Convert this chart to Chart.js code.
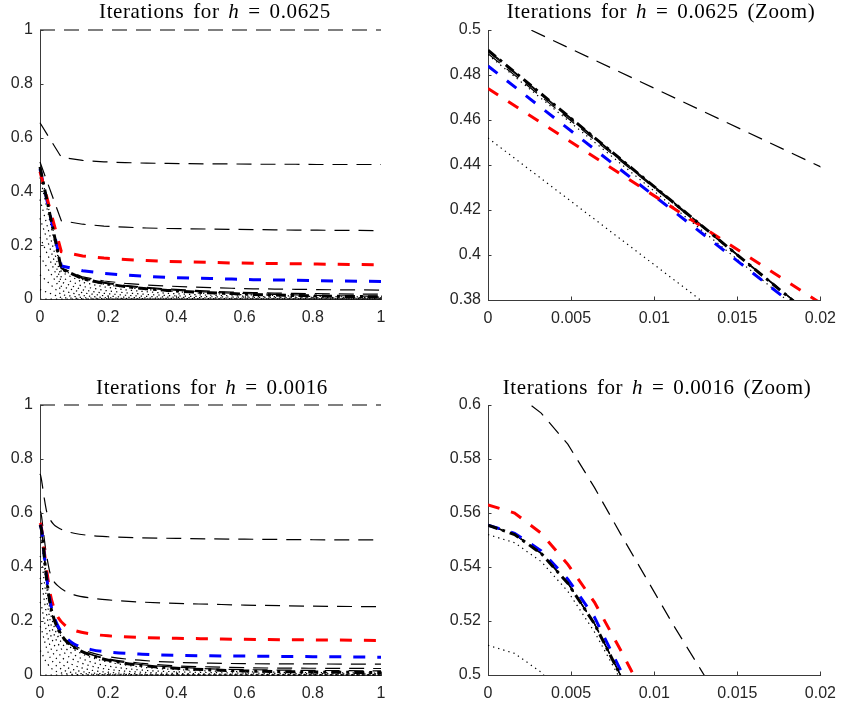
<!DOCTYPE html>
<html>
<head>
<meta charset="utf-8">
<script src="https://cdn.jsdelivr.net/npm/chart.js@4.4.1/dist/chart.umd.min.js"></script>
<style>
  html, body { margin: 0; padding: 0; background: #fff; }
  #page { position: relative; width: 845px; height: 706px; overflow: hidden; }
  #page canvas { position: absolute; }
  .plot-title {
    position: absolute; transform: translateX(-50%); white-space: nowrap;
    font-family: 'Liberation Serif', serif; font-size: 21px; line-height: 1;
    letter-spacing: 0.6px; word-spacing: 3px; color: #000;
  }
</style>
</head>
<body>
<div id="page">
  <canvas id="chart-tl" width="400" height="325" style="left:0;top:0"></canvas>
  <canvas id="chart-tr" width="425" height="325" style="left:420px;top:0"></canvas>
  <canvas id="chart-bl" width="400" height="331" style="left:0;top:375px"></canvas>
  <canvas id="chart-br" width="425" height="331" style="left:420px;top:375px"></canvas>
  <div class="plot-title" style="left:215px;top:1px">Iterations for <i>h</i> = 0.0625</div>
  <div class="plot-title" style="left:661px;top:1px">Iterations for <i>h</i> = 0.0625 (Zoom)</div>
  <div class="plot-title" style="left:212px;top:377px">Iterations for <i>h</i> = 0.0016</div>
  <div class="plot-title" style="left:657px;top:377px">Iterations for <i>h</i> = 0.0016 (Zoom)</div>
</div>
<script>
// ---- h = 0.0625 (mesh nodes) ----
const xCoarse = [0, 0.0625, 0.125, 0.1875, 0.25, 0.3125, 0.375, 0.4375, 0.5, 0.5625, 0.625, 0.6875, 0.75, 0.8125, 0.875, 0.9375, 1];
const coarseUpper0 = [1, 1, 1, 1, 1, 1, 1, 1, 1, 1, 1, 1, 1, 1, 1, 1, 1];
const coarseUpper1 = [0.655, 0.527, 0.515, 0.51, 0.507, 0.505, 0.504, 0.503, 0.502, 0.502, 0.501, 0.501, 0.501, 0.5, 0.5, 0.5, 0.5];
const coarseUpper2 = [0.509, 0.291, 0.278, 0.271, 0.267, 0.264, 0.262, 0.261, 0.26, 0.259, 0.258, 0.257, 0.256, 0.256, 0.255, 0.255, 0.254];
const coarseRed = [0.474, 0.176, 0.16, 0.152, 0.147, 0.143, 0.14, 0.138, 0.136, 0.134, 0.133, 0.132, 0.131, 0.13, 0.129, 0.128, 0.127];
const coarseBlue = [0.484, 0.123, 0.105, 0.095, 0.089, 0.084, 0.08, 0.078, 0.076, 0.074, 0.072, 0.071, 0.07, 0.068, 0.067, 0.066, 0.065];
const coarseUpper5 = [0.4895, 0.116, 0.082, 0.067, 0.058, 0.052, 0.048, 0.045, 0.042, 0.04, 0.038, 0.037, 0.036, 0.035, 0.034, 0.034, 0.033];
const coarseUpper6 = [0.4905, 0.114, 0.078, 0.062, 0.051, 0.043, 0.037, 0.033, 0.029, 0.026, 0.024, 0.022, 0.021, 0.02, 0.019, 0.018, 0.018];
const coarseUpper7 = [0.491, 0.113, 0.076, 0.059, 0.048, 0.04, 0.034, 0.029, 0.025, 0.022, 0.019, 0.017, 0.015, 0.013, 0.012, 0.011, 0.011];
const coarseSolution = [0.491, 0.112, 0.075, 0.058, 0.046, 0.038, 0.032, 0.027, 0.023, 0.02, 0.017, 0.015, 0.013, 0.011, 0.01, 0.009, 0.008];
const coarseLower1 = [0.489, 0.11, 0.072, 0.055, 0.043, 0.035, 0.029, 0.024, 0.02, 0.017, 0.015, 0.013, 0.011, 0.0095, 0.0085, 0.0075, 0.007];
const coarseLower2 = [0.452, 0.1, 0.062, 0.045, 0.034, 0.027, 0.021, 0.017, 0.014, 0.012, 0.01, 0.0085, 0.0072, 0.0062, 0.0055, 0.005, 0.0045];
const coarseLower3 = [0.37, 0.08, 0.047, 0.032, 0.023, 0.017, 0.013, 0.01, 0.0085, 0.0072, 0.0062, 0.0053, 0.0046, 0.004, 0.0036, 0.0032, 0.003];
const coarseLower4 = [0.3, 0.063, 0.034, 0.021, 0.014, 0.0095, 0.007, 0.0055, 0.0044, 0.0036, 0.003, 0.0026, 0.0022, 0.002, 0.0018, 0.0016, 0.0015];
const coarseLower5 = [0.23, 0.047, 0.023, 0.012, 0.0065, 0.0038, 0.0025, 0.0018, 0.0014, 0.0012, 0.001, 0.0009, 0.0008, 0.0007, 0.0006, 0.0006, 0.0005];
const coarseLower6 = [0.16, 0.031, 0.013, 0.005, 0.002, 0.001, 0.0005, 0, 0, 0, 0, 0, 0, 0, 0, 0, 0];
const coarseLower7 = [0.09, 0.016, 0.005, 0.0012, 0, 0, 0, 0, 0, 0, 0, 0, 0, 0, 0, 0, 0];
const coarseLower8 = [0.035, 0.005, 0.001, 0, 0, 0, 0, 0, 0, 0, 0, 0, 0, 0, 0, 0, 0];
const coarseLower0 = [0, 0, 0, 0, 0, 0, 0, 0, 0, 0, 0, 0, 0, 0, 0, 0, 0];

// ---- h = 0.0016 (mesh nodes near x = 0, sampled further out) ----
const xFine = [0, 0.0016, 0.0032, 0.0048, 0.0064, 0.008, 0.0096, 0.0112, 0.0128, 0.0144, 0.016, 0.0176, 0.0192, 0.03, 0.04, 0.05, 0.075, 0.1, 0.15, 0.2, 0.3, 0.4, 0.5, 0.6, 0.8, 1];
const fineUpper0 = [1, 1, 1, 1, 1, 1, 1, 1, 1, 1, 1, 1, 1, 1, 1, 1, 1, 1, 1, 1, 1, 1, 1, 1, 1, 1];
const fineUpper1 = [0.745, 0.74, 0.731, 0.72, 0.707, 0.693, 0.679, 0.665, 0.652, 0.64, 0.628, 0.617, 0.607, 0.575, 0.558, 0.548, 0.533, 0.525, 0.516, 0.512, 0.508, 0.506, 0.504, 0.503, 0.501, 0.5];
const fineUpper2 = [0.605, 0.6045, 0.597, 0.5855, 0.5695, 0.552, 0.535, 0.518, 0.502, 0.486, 0.471, 0.457, 0.444, 0.375, 0.348, 0.333, 0.31, 0.297, 0.285, 0.278, 0.27, 0.265, 0.262, 0.259, 0.255, 0.253];
const fineRed = [0.563, 0.56, 0.5525, 0.541, 0.527, 0.509, 0.49, 0.472, 0.455, 0.439, 0.423, 0.408, 0.393, 0.3, 0.252, 0.22, 0.182, 0.166, 0.152, 0.145, 0.139, 0.136, 0.134, 0.132, 0.13, 0.128];
const fineBlue = [0.5555, 0.5525, 0.546, 0.5355, 0.5215, 0.5015, 0.481, 0.461, 0.441, 0.421, 0.402, 0.384, 0.366, 0.272, 0.222, 0.188, 0.14, 0.115, 0.094, 0.085, 0.077, 0.073, 0.071, 0.07, 0.068, 0.066];
const fineUpper5 = [0.5555, 0.5522, 0.5452, 0.5342, 0.5192, 0.4997, 0.4782, 0.4572, 0.4365, 0.4165, 0.397, 0.378, 0.36, 0.265, 0.216, 0.183, 0.135, 0.11, 0.083, 0.068, 0.054, 0.047, 0.044, 0.042, 0.041, 0.04];
const fineUpper6 = [0.5555, 0.552, 0.545, 0.534, 0.519, 0.4996, 0.478, 0.457, 0.436, 0.416, 0.396, 0.377, 0.359, 0.263, 0.213, 0.179, 0.13, 0.104, 0.077, 0.06, 0.043, 0.034, 0.03, 0.027, 0.025, 0.024];
const fineUpper7 = [0.5555, 0.552, 0.545, 0.534, 0.519, 0.4995, 0.478, 0.457, 0.436, 0.416, 0.396, 0.377, 0.359, 0.262, 0.212, 0.178, 0.129, 0.103, 0.075, 0.057, 0.038, 0.029, 0.023, 0.02, 0.017, 0.015];
const fineSolution = [0.5555, 0.552, 0.545, 0.534, 0.519, 0.4995, 0.478, 0.457, 0.436, 0.416, 0.396, 0.377, 0.359, 0.262, 0.212, 0.178, 0.128, 0.102, 0.073, 0.055, 0.035, 0.025, 0.019, 0.015, 0.011, 0.009];
const fineLower1 = [0.552, 0.549, 0.542, 0.531, 0.516, 0.498, 0.477, 0.456, 0.435, 0.414, 0.394, 0.375, 0.356, 0.258, 0.206, 0.171, 0.12, 0.094, 0.065, 0.048, 0.029, 0.02, 0.015, 0.012, 0.009, 0.007];
const fineLower2 = [0.511, 0.508, 0.501, 0.49, 0.476, 0.459, 0.44, 0.421, 0.402, 0.383, 0.365, 0.347, 0.33, 0.235, 0.185, 0.15, 0.1, 0.075, 0.048, 0.033, 0.018, 0.012, 0.009, 0.007, 0.005, 0.004];
const fineLower3 = [0.44, 0.437, 0.43, 0.42, 0.407, 0.392, 0.376, 0.36, 0.344, 0.328, 0.313, 0.298, 0.284, 0.2, 0.155, 0.123, 0.078, 0.056, 0.033, 0.021, 0.01, 0.006, 0.004, 0.003, 0.002, 0.0015];
const fineLower4 = [0.36, 0.357, 0.35, 0.341, 0.33, 0.317, 0.303, 0.289, 0.275, 0.262, 0.249, 0.237, 0.225, 0.155, 0.117, 0.09, 0.053, 0.036, 0.018, 0.01, 0.004, 0.002, 0.001, 0.0008, 0.0005, 0.0004];
const fineLower5 = [0.27, 0.267, 0.261, 0.253, 0.244, 0.233, 0.222, 0.211, 0.2, 0.189, 0.179, 0.169, 0.16, 0.106, 0.078, 0.058, 0.031, 0.019, 0.008, 0.004, 0.001, 0, 0, 0, 0, 0];
const fineLower6 = [0.18, 0.178, 0.173, 0.167, 0.16, 0.152, 0.144, 0.136, 0.128, 0.121, 0.114, 0.107, 0.101, 0.064, 0.045, 0.032, 0.015, 0.008, 0.003, 0.001, 0, 0, 0, 0, 0, 0];
const fineLower7 = [0.09, 0.089, 0.086, 0.082, 0.078, 0.074, 0.069, 0.065, 0.061, 0.057, 0.053, 0.05, 0.047, 0.028, 0.019, 0.012, 0.005, 0.002, 0.0005, 0, 0, 0, 0, 0, 0, 0];
const fineLower0 = [0, 0, 0, 0, 0, 0, 0, 0, 0, 0, 0, 0, 0, 0, 0, 0, 0, 0, 0, 0, 0, 0, 0, 0, 0, 0];

// ---- tick labels ----
const fullTicks = [0, 0.2, 0.4, 0.6, 0.8, 1];
const zoomXTicks = [0, 0.005, 0.01, 0.015, 0.02];
const zoomYTicksCoarse = [0.38, 0.4, 0.42, 0.44, 0.46, 0.48, 0.5];
const zoomYTicksFine = [0.5, 0.52, 0.54, 0.56, 0.58, 0.6];

const AXIS_COLOR = '#3a3a3a';
const TICK_TEXT = '#262626';

const styles = {
  upper: { borderColor: '#000000', borderWidth: 1.2, borderDash: [15, 9] },
  red: { borderColor: '#ff0000', borderWidth: 3, borderDash: [12, 12] },
  blue: { borderColor: '#0000ff', borderWidth: 3, borderDash: [12, 12] },
  solution: { borderColor: '#000000', borderWidth: 3, borderDash: [10, 5, 3, 5] },
  lower: { borderColor: '#000000', borderWidth: 1.2, borderDash: [1.3, 4] }
};

function lineSet(xs, ys, style, smooth) {
  return {
    data: xs.map((x, i) => ({ x, y: ys[i] })),
    showLine: true,
    pointRadius: 0,
    pointHoverRadius: 0,
    fill: false,
    tension: 0,
    cubicInterpolationMode: smooth ? 'monotone' : 'default',
    borderCapStyle: 'butt',
    ...style
  };
}

// first entry is drawn on top
function coarseSets() {
  return [
    lineSet(xCoarse, coarseSolution, styles.solution),
    lineSet(xCoarse, coarseRed, styles.red),
    lineSet(xCoarse, coarseBlue, styles.blue),
    lineSet(xCoarse, coarseUpper0, styles.upper),
    lineSet(xCoarse, coarseUpper1, styles.upper),
    lineSet(xCoarse, coarseUpper2, styles.upper),
    lineSet(xCoarse, coarseUpper5, styles.upper),
    lineSet(xCoarse, coarseUpper6, styles.upper),
    lineSet(xCoarse, coarseUpper7, styles.upper),
    lineSet(xCoarse, coarseLower1, styles.lower),
    lineSet(xCoarse, coarseLower2, styles.lower),
    lineSet(xCoarse, coarseLower3, styles.lower),
    lineSet(xCoarse, coarseLower4, styles.lower),
    lineSet(xCoarse, coarseLower5, styles.lower),
    lineSet(xCoarse, coarseLower6, styles.lower),
    lineSet(xCoarse, coarseLower7, styles.lower),
    lineSet(xCoarse, coarseLower8, styles.lower),
    lineSet(xCoarse, coarseLower0, styles.lower)
  ];
}

function fineSets(smooth) {
  return [
    lineSet(xFine, fineSolution, styles.solution, smooth),
    lineSet(xFine, fineBlue, styles.blue, smooth),
    lineSet(xFine, fineRed, styles.red, smooth),
    lineSet(xFine, fineUpper0, styles.upper, smooth),
    lineSet(xFine, fineUpper1, styles.upper, smooth),
    lineSet(xFine, fineUpper2, styles.upper, smooth),
    lineSet(xFine, fineUpper5, styles.upper, smooth),
    lineSet(xFine, fineUpper6, styles.upper, smooth),
    lineSet(xFine, fineUpper7, styles.upper, smooth),
    lineSet(xFine, fineLower1, styles.lower, smooth),
    lineSet(xFine, fineLower2, styles.lower, smooth),
    lineSet(xFine, fineLower3, styles.lower, smooth),
    lineSet(xFine, fineLower4, styles.lower, smooth),
    lineSet(xFine, fineLower5, styles.lower, smooth),
    lineSet(xFine, fineLower6, styles.lower, smooth),
    lineSet(xFine, fineLower7, styles.lower, smooth),
    lineSet(xFine, fineLower0, styles.lower, smooth)
  ];
}

// MATLAB style: tick marks point into the axes
const innerTicks = {
  id: 'innerTicks',
  afterDraw(chart) {
    const { ctx, chartArea, scales } = chart;
    ctx.save();
    ctx.strokeStyle = AXIS_COLOR;
    ctx.lineWidth = 1;
    ctx.beginPath();
    scales.x.ticks.forEach((t) => {
      const px = Math.round(scales.x.getPixelForValue(t.value)) + 0.5;
      ctx.moveTo(px, chartArea.bottom);
      ctx.lineTo(px, chartArea.bottom - 3.5);
    });
    scales.y.ticks.forEach((t) => {
      const py = Math.round(scales.y.getPixelForValue(t.value)) + 0.5;
      ctx.moveTo(chartArea.left, py);
      ctx.lineTo(chartArea.left + 3.5, py);
    });
    ctx.stroke();
    ctx.restore();
  }
};

function fmt(v) {
  return String(Number(v.toFixed(4)));
}

function makeChart(id, datasets, opts) {
  const tickFont = { family: "'Liberation Sans', Arial, sans-serif", size: 16 };
  return new Chart(document.getElementById(id), {
    type: 'scatter',
    data: { datasets: datasets.map((d) => ({ ...d, clip: opts.clip })) },
    options: {
      responsive: false,
      animation: false,
      events: [],
      layout: { padding: { top: opts.padTop, right: opts.padRight, left: 0, bottom: 0 } },
      plugins: { legend: { display: false }, tooltip: { enabled: false } },
      scales: {
        x: {
          type: 'linear',
          min: opts.xMin,
          max: opts.xMax,
          afterBuildTicks: (s) => { s.ticks = opts.xTicks.map((v) => ({ value: v })); },
          afterFit: (s) => { s.height = opts.xAxisH; },
          grid: { display: false, drawTicks: false },
          border: { display: true, color: AXIS_COLOR, width: 1 },
          ticks: { color: TICK_TEXT, font: tickFont, padding: 9, maxRotation: 0, autoSkip: false, callback: fmt }
        },
        y: {
          type: 'linear',
          min: opts.yMin,
          max: opts.yMax,
          afterBuildTicks: (s) => { s.ticks = opts.yTicks.map((v) => ({ value: v })); },
          afterFit: (s) => { s.width = opts.yAxisW; },
          grid: { display: false, drawTicks: false },
          border: { display: true, color: AXIS_COLOR, width: 1 },
          ticks: { color: TICK_TEXT, font: tickFont, padding: 7, autoSkip: false, callback: fmt }
        }
      }
    },
    plugins: [innerTicks]
  });
}

makeChart('chart-tl', coarseSets(), {
  xMin: 0, xMax: 1, yMin: 0, yMax: 1, xTicks: fullTicks, yTicks: fullTicks,
  padTop: 30, padRight: 19, yAxisW: 40, xAxisH: 26, clip: false
});
makeChart('chart-tr', coarseSets(), {
  xMin: 0, xMax: 0.02, yMin: 0.38, yMax: 0.5, xTicks: zoomXTicks, yTicks: zoomYTicksCoarse,
  padTop: 30, padRight: 16, yAxisW: 68, xAxisH: 25, clip: 0
});
makeChart('chart-bl', fineSets(true), {
  xMin: 0, xMax: 1, yMin: 0, yMax: 1, xTicks: fullTicks, yTicks: fullTicks,
  padTop: 30, padRight: 19, yAxisW: 40, xAxisH: 31, clip: false
});
makeChart('chart-br', fineSets(false), {
  xMin: 0, xMax: 0.02, yMin: 0.5, yMax: 0.6, xTicks: zoomXTicks, yTicks: zoomYTicksFine,
  padTop: 30, padRight: 16, yAxisW: 68, xAxisH: 31, clip: 0
});
</script>
</body>
</html>
